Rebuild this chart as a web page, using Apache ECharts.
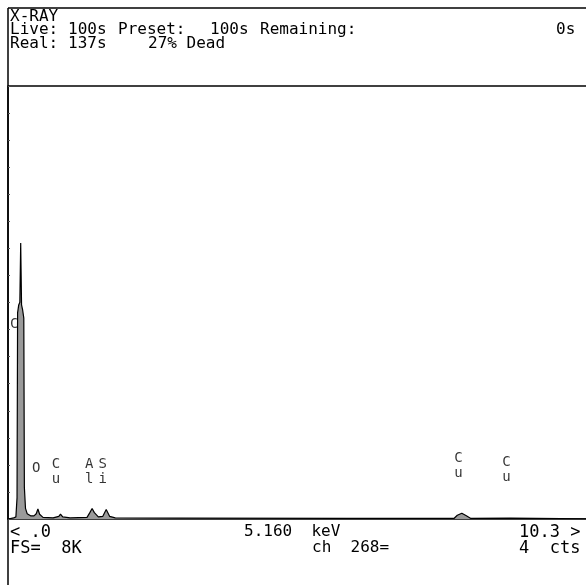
<!DOCTYPE html>
<html>
<head>
<meta charset="utf-8">
<script src="https://cdn.jsdelivr.net/npm/echarts@6/dist/echarts.min.js"></script>
<style>
  html, body { margin: 0; padding: 0; background: #fff; }
  #spec { width: 586px; height: 585px; }
</style>
</head>
<body>
<div id="spec"></div>
<script>
// spectrum, energy in keV, counts (full scale 8K)
const energy = [0.00, 0.10, 0.14, 0.16, 0.17, 0.19, 0.21, 0.225, 0.24, 0.26, 0.28, 0.29, 0.31, 0.34,
                0.40, 0.46, 0.50, 0.53, 0.56, 0.62, 0.80, 0.90, 0.93, 0.97, 1.10, 1.40, 1.45, 1.49,
                1.53, 1.60, 1.68, 1.74, 1.80, 1.90, 3.00, 6.00, 7.90, 7.96, 8.04, 8.12, 8.20, 8.90, 10.24];
const counts = [0, 20, 40, 400, 3900, 4050, 4100, 5220, 4050, 3950, 3800, 600, 200, 100,
                60, 60, 100, 190, 90, 30, 20, 50, 90, 40, 20, 30, 120, 200,
                120, 40, 50, 180, 50, 20, 15, 10, 10, 70, 110, 60, 10, 15, 5];

// element markers (vertical letters)
const peakNames = ['C', 'O', 'C\nu', 'A\nl', 'S\ni', 'C\nu', 'C\nu'];
const peakEnergy = [0.11, 0.50, 0.85, 1.44, 1.68, 7.98, 8.83];
const labelHeight = [3690, 965, 890, 890, 890, 1000, 930];

const fullScale = 8192;
const maxEnergy = 10.24;

const mono = 'DejaVu Sans Mono';

function txt(x, y, s, size) {
  return {
    type: 'text', left: x, top: y,
    style: { text: s, fill: '#000', font: (size || 16) + 'px "' + mono + '"' }
  };
}
function hline(y, x1, x2) {
  return { type: 'line', shape: { x1: x1, y1: y, x2: x2, y2: y }, style: { stroke: '#000', lineWidth: 1.5 } };
}

const chart = echarts.init(document.getElementById('spec'));
chart.setOption({
  animation: false,
  backgroundColor: '#fff',
  grid: { left: 8, right: 0, top: 86, bottom: 66 },
  xAxis: {
    type: 'value', min: 0, max: maxEnergy,
    axisLine: { show: true, lineStyle: { color: '#000', width: 1.5 } },
    axisTick: { show: false }, axisLabel: { show: false }, splitLine: { show: false }
  },
  yAxis: {
    type: 'value', min: 0, max: fullScale, interval: 512,
    axisLine: { show: true, lineStyle: { color: '#000', width: 1.5 } },
    axisTick: { show: true, inside: true, length: 2, lineStyle: { color: '#555' } },
    axisLabel: { show: false }, splitLine: { show: false }
  },
  series: [
    {
      type: 'line',
      data: energy.map((e, i) => [e, counts[i]]),
      symbol: 'none',
      lineStyle: { color: '#000', width: 1.2 },
      areaStyle: { color: '#9a9a9a', opacity: 1 }
    },
    {
      type: 'scatter',
      symbolSize: 0,
      data: peakEnergy.map((e, i) => [e, labelHeight[i]]),
      label: {
        show: true, position: 'inside',
        formatter: p => peakNames[p.dataIndex],
        color: '#000', fontFamily: mono, fontSize: 14, lineHeight: 15
      }
    }
  ],
  graphic: [
    { type: 'line', shape: { x1: 8, y1: 8, x2: 8, y2: 585 }, style: { stroke: '#000', lineWidth: 1.5 } },
    hline(8, 8, 586),
    hline(86, 8, 586),
    txt(10, 9, 'X-RAY'),
    txt(10, 22, 'Live:'), txt(68, 22, '100s'), txt(118, 22, 'Preset:'), txt(210, 22, '100s'),
    txt(260, 22, 'Remaining:'), txt(556, 22, '0s'),
    txt(10, 36, 'Real:'), txt(68, 36, '137s'), txt(148, 36, '27% Dead'),
    txt(10, 524, '< .0', 17), txt(10, 540, 'FS=  8K', 17),
    txt(244, 524, '5.160  keV', 16), txt(312, 540, 'ch  268=', 16),
    txt(519, 524, '10.3 >', 17), txt(519, 540, '4  cts', 17)
  ]
});
</script>
</body>
</html>
